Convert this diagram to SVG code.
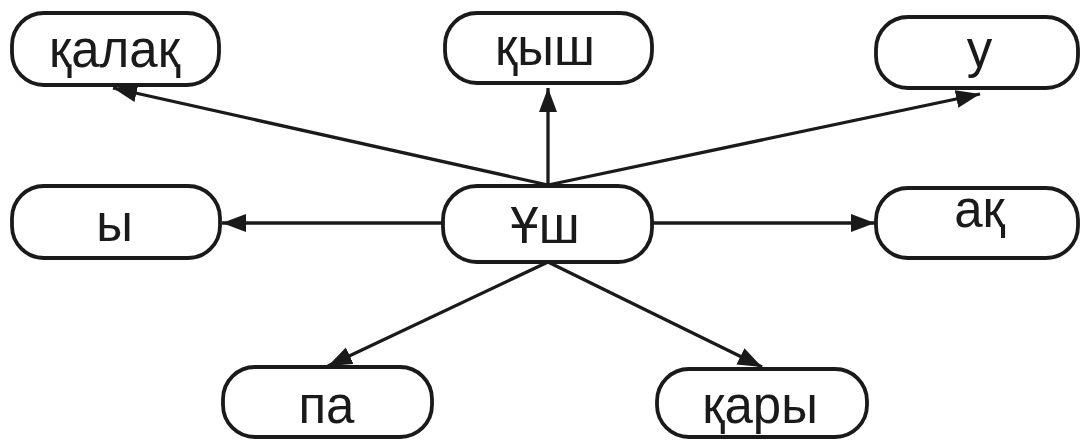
<svg xmlns="http://www.w3.org/2000/svg" width="1080" height="441" viewBox="0 0 1080 441">
<style>
.box{fill:#fff;stroke:#1a1a1a;stroke-width:3.8}
.lbl{font-family:"Liberation Sans",Arial,sans-serif;font-size:51px;fill:#1a1a1a;text-anchor:middle}
.con{stroke:#1a1a1a;stroke-width:3.3;fill:none;marker-end:url(#ah)}
</style>
<defs>
<marker id="ah" markerUnits="userSpaceOnUse" markerWidth="26" markerHeight="20" refX="24" refY="9" orient="auto">
<path d="M0,0 L24,9 L0,18 Z" fill="#1a1a1a"/>
</marker>
</defs>
<rect width="1080" height="441" fill="#fff"/>
<g id="connectors">
<line class="con" x1="548" y1="185" x2="113" y2="88"/>
<line class="con" x1="548" y1="185" x2="548" y2="88"/>
<line class="con" x1="548" y1="185" x2="980" y2="94"/>
<line class="con" x1="443" y1="223" x2="222" y2="223"/>
<line class="con" x1="652" y1="223" x2="875" y2="223"/>
<line class="con" x1="548" y1="262" x2="328" y2="366"/>
<line class="con" x1="548" y1="262" x2="762" y2="367"/>
</g>
<g id="n-kalak"><rect class="box" x="12" y="13" width="207" height="72" rx="32"/><text class="lbl" x="114.5" y="67">қалақ</text></g>
<g id="n-kysh"><rect class="box" x="445" y="13" width="207" height="70" rx="32"/><text class="lbl" x="545" y="65">қыш</text></g>
<g id="n-u"><rect class="box" x="876" y="17" width="202" height="71" rx="32"/><text class="lbl" x="979.5" y="67">у</text></g>
<g id="n-y"><rect class="box" x="12" y="186" width="208" height="72" rx="32"/><text class="lbl" x="114.5" y="241">ы</text></g>
<g id="n-ush"><rect class="box" x="443" y="186" width="209" height="76" rx="34"/><text class="lbl" x="545" y="243">Ұш</text></g>
<g id="n-ak"><rect class="box" x="876" y="188" width="202" height="70" rx="32"/><text class="lbl" x="979.5" y="227">ақ</text></g>
<g id="n-pa"><rect class="box" x="223" y="367" width="209" height="70" rx="32"/><text class="lbl" x="326.5" y="423">па</text></g>
<g id="n-kary"><rect class="box" x="657" y="369" width="210" height="68" rx="32"/><text class="lbl" x="760" y="423">қары</text></g>
</svg>
